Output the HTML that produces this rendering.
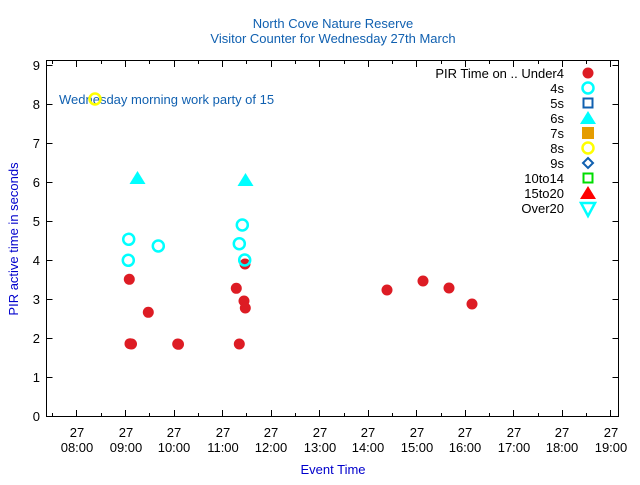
<!DOCTYPE html>
<html><head><meta charset="utf-8"><style>body{margin:0;background:#fff}</style></head><body>
<svg width="640" height="480" xmlns="http://www.w3.org/2000/svg" font-family="Liberation Sans, sans-serif" font-size="13">
<rect width="640" height="480" fill="#fff"/>
<text x="333" y="28" text-anchor="middle" fill="#1060b0">North Cove Nature Reserve</text>
<text x="333" y="43" text-anchor="middle" fill="#1060b0">Visitor Counter for Wednesday 27th March</text>
<g stroke="#000" stroke-width="1" fill="none">
<rect x="46.5" y="60.5" width="572" height="356"/>
<path d="M46.5 65.5h6M46.5 104.5h6M46.5 143.5h6M46.5 182.5h6M46.5 221.5h6M46.5 260.5h6M46.5 299.5h6M46.5 338.5h6M46.5 377.5h6
M618.5 65.5h-6M618.5 104.5h-6M618.5 143.5h-6M618.5 182.5h-6M618.5 221.5h-6M618.5 260.5h-6M618.5 299.5h-6M618.5 338.5h-6M618.5 377.5h-6"/>
<path d="M76.5 416v-6M125.5 416v-6M174.5 416v-6M222.5 416v-6M271.5 416v-6M319.5 416v-6M368.5 416v-6M416.5 416v-6M465.5 416v-6M513.5 416v-6M562.5 416v-6M610.5 416v-6
M76.5 61v6M125.5 61v6M174.5 61v6M222.5 61v6M271.5 61v6M319.5 61v6M368.5 61v6M416.5 61v6M465.5 61v6M513.5 61v6M562.5 61v6M610.5 61v6
M52.5 416v-3M101.5 416v-3M149.5 416v-3M198.5 416v-3M246.5 416v-3M295.5 416v-3M344.5 416v-3M392.5 416v-3M441.5 416v-3M489.5 416v-3M538.5 416v-3M586.5 416v-3
M52.5 61v3M101.5 61v3M149.5 61v3M198.5 61v3M246.5 61v3M295.5 61v3M344.5 61v3M392.5 61v3M441.5 61v3M489.5 61v3M538.5 61v3M586.5 61v3"/>
</g>
<g text-anchor="end" fill="#000">
<text x="40" y="421">0</text><text x="40" y="382">1</text><text x="40" y="343">2</text><text x="40" y="304">3</text><text x="40" y="265">4</text><text x="40" y="226">5</text><text x="40" y="187">6</text><text x="40" y="148">7</text><text x="40" y="109">8</text><text x="40" y="70">9</text>
</g>
<g text-anchor="middle" fill="#000">
<text x="77" y="437">27</text><text x="77" y="452">08:00</text>
<text x="126" y="437">27</text><text x="126" y="452">09:00</text>
<text x="174" y="437">27</text><text x="174" y="452">10:00</text>
<text x="223" y="437">27</text><text x="223" y="452">11:00</text>
<text x="271" y="437">27</text><text x="271" y="452">12:00</text>
<text x="320" y="437">27</text><text x="320" y="452">13:00</text>
<text x="368" y="437">27</text><text x="368" y="452">14:00</text>
<text x="417" y="437">27</text><text x="417" y="452">15:00</text>
<text x="465" y="437">27</text><text x="465" y="452">16:00</text>
<text x="514" y="437">27</text><text x="514" y="452">17:00</text>
<text x="562" y="437">27</text><text x="562" y="452">18:00</text>
<text x="611" y="437">27</text><text x="611" y="452">19:00</text>
</g>
<text x="333" y="474" text-anchor="middle" fill="#0000cc">Event Time</text>
<text transform="translate(18 239) rotate(-90)" text-anchor="middle" fill="#0000cc">PIR active time in seconds</text>
<text x="59" y="104" fill="#1060b0">Wednesday morning work party of 15</text>
<g text-anchor="end" fill="#000">
<text x="564" y="78">PIR Time on .. Under4</text><text x="564" y="93">4s</text><text x="564" y="108">5s</text><text x="564" y="123">6s</text><text x="564" y="138">7s</text><text x="564" y="153">8s</text><text x="564" y="168">9s</text><text x="564" y="183">10to14</text><text x="564" y="198">15to20</text><text x="564" y="213">Over20</text>
</g>
<circle cx="588" cy="73" r="5.5" fill="#dd1c24"/>
<circle cx="588" cy="88" r="5.5" fill="none" stroke="#00ffff" stroke-width="2.5"/>
<rect x="583.5" y="98.5" width="9" height="9" fill="none" stroke="#1060b0" stroke-width="2"/>
<polygon points="588,111 596,124 580,124" fill="#00ffff"/>
<rect x="582" y="127" width="12" height="12" fill="#e59c00"/>
<circle cx="588" cy="148" r="5.5" fill="none" stroke="#ffff00" stroke-width="2.5"/>
<polygon points="588,158 593,163 588,168 583,163" fill="none" stroke="#1060b0" stroke-width="2"/>
<rect x="583.5" y="173.5" width="9" height="9" fill="none" stroke="#00dd00" stroke-width="2"/>
<polygon points="588,186 596,199 580,199" fill="#ff0000"/>
<polygon points="581,203 595,203 588,216" fill="none" stroke="#00ffff" stroke-width="2.5"/>
<g fill="#dd1c24">
<circle cx="129.3" cy="279.3" r="5.5"/><circle cx="130" cy="343.7" r="5.5"/><circle cx="131.5" cy="344" r="5.5"/><circle cx="148.3" cy="312.3" r="5.5"/><circle cx="177.7" cy="344" r="5.5"/><circle cx="178.5" cy="344.3" r="5.5"/><circle cx="236.3" cy="288.3" r="5.5"/><circle cx="239.3" cy="344" r="5.5"/><circle cx="245" cy="264" r="5.5"/><circle cx="244" cy="301" r="5.5"/><circle cx="245.3" cy="308" r="5.5"/><circle cx="387" cy="290" r="5.5"/><circle cx="423" cy="281" r="5.5"/><circle cx="449" cy="288" r="5.5"/><circle cx="472" cy="304" r="5.5"/>
</g>
<g fill="none" stroke="#00ffff" stroke-width="2.5">
<circle cx="128.7" cy="239.3" r="5.5"/><circle cx="128.3" cy="260.3" r="5.5"/><circle cx="158.3" cy="246" r="5.5"/><circle cx="242.3" cy="225" r="5.5"/><circle cx="239.3" cy="243.7" r="5.5"/><circle cx="244.7" cy="260" r="5.5"/>
</g>
<polygon points="137.5,171 145.5,184 129.5,184" fill="#00ffff"/>
<polygon points="245.5,173 253.5,186 237.5,186" fill="#00ffff"/>
<circle cx="95" cy="99" r="5.5" fill="none" stroke="#ffff00" stroke-width="2.5"/>
</svg>
</body></html>
